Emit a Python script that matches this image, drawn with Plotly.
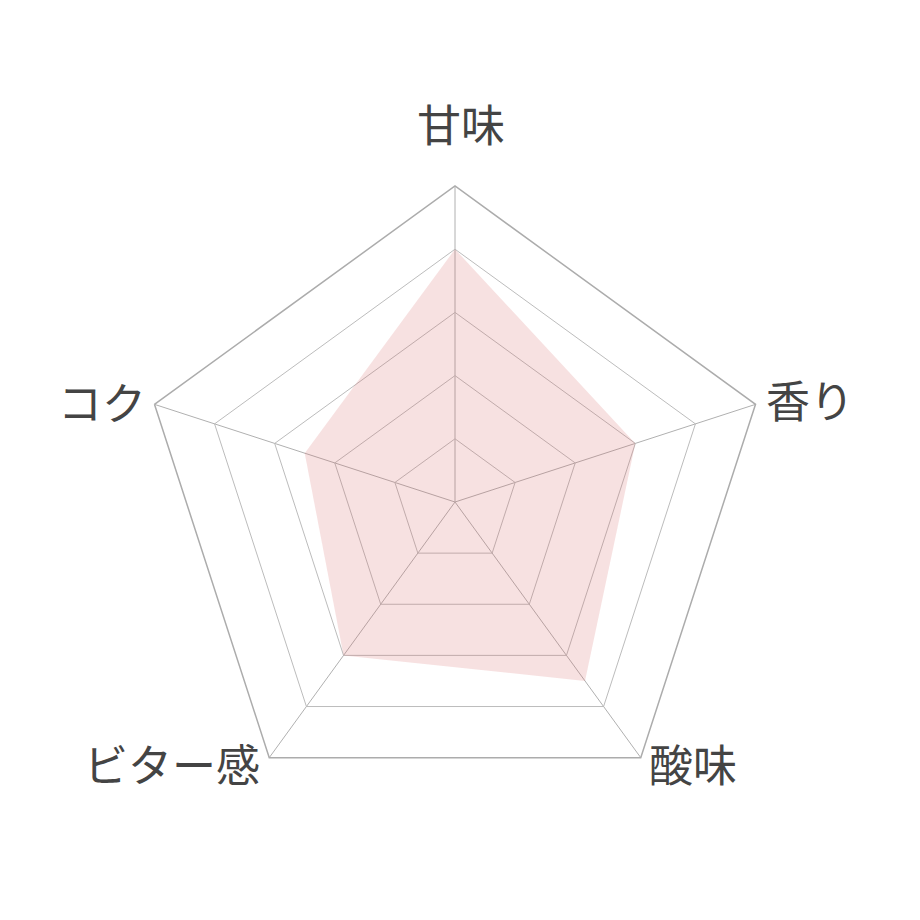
import math
import plotly.graph_objects as go

# 味のバランス（0〜5）
labels = ["甘味", "香り", "酸味", "ビター感", "コク"]
scores = [4, 3, 3.5, 3, 2.5]

# label placement around the outer pentagon: (xanchor, yanchor, xshift px, yshift px)
label_style = [
    ("center", "bottom", -2, 38),
    ("left", "middle", 0, 14),
    ("left", "middle", -2, 4),
    ("right", "middle", -15, 4),
    ("right", "middle", -14, 12),
]

W = H = 920
cx, cy, R = 447, 494, 316  # polar domain centre / radius in px

fig = go.Figure()
fig.add_trace(go.Scatterpolar(
    r=scores + scores[:1],
    theta=labels + labels[:1],
    fill="toself",
    fillcolor="rgba(215,105,105,0.2)",
    line=dict(width=0, color="rgba(0,0,0,0)"),
    mode="lines",
    hoverinfo="skip",
))

# category labels just outside each vertex
ox, oy = cx + 8, cy + 9  # drawn centre (plotly offsets the pentagon slightly)
for i, (name, (xa, ya, dx, dy)) in enumerate(zip(labels, label_style)):
    ang = math.radians(90 - 360 / len(labels) * i)
    px = ox + R * math.cos(ang)
    py = oy - R * math.sin(ang)
    fig.add_annotation(
        x=px / W, y=1 - py / H, xref="paper", yref="paper",
        text=name, showarrow=False, xanchor=xa, yanchor=ya,
        xshift=dx, yshift=dy,
        font=dict(family="Noto Sans CJK JP", size=44, color="#444"),
    )

fig.update_layout(
    width=W, height=H,
    margin=dict(l=0, r=0, t=0, b=0),
    paper_bgcolor="white",
    showlegend=False,
    font=dict(family="Noto Sans CJK JP", color="#444"),
    polar=dict(
        domain=dict(x=[(cx - R) / W, (cx + R) / W], y=[1 - (cy + R) / H, 1 - (cy - R) / H]),
        bgcolor="white",
        gridshape="linear",
        radialaxis=dict(range=[0, 5], dtick=1, showticklabels=False, ticks="",
                        showline=False, gridcolor="#bcbcbc", gridwidth=1.2),
        angularaxis=dict(rotation=90, direction="clockwise", ticks="",
                         showticklabels=False,
                         showline=True, linecolor="#acacac", linewidth=1.5,
                         gridcolor="#b0b0b0", gridwidth=1.3),
    ),
)

fig.write_html("out.html")
